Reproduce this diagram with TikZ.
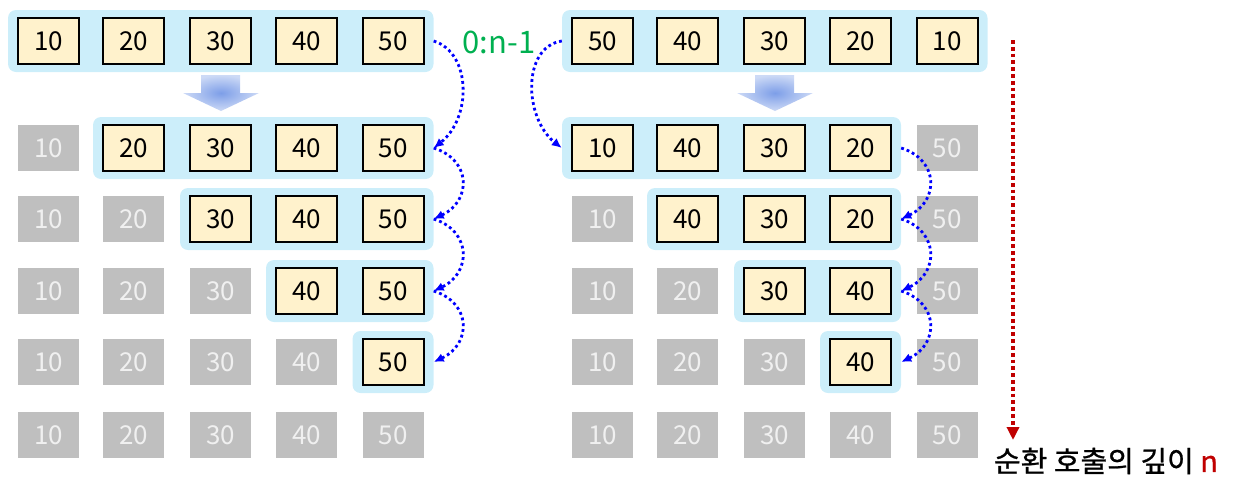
\documentclass[tikz,border=0pt]{standalone}
\usepackage{fontspec}
\setmainfont{Noto Sans CJK KR}
\newfontfamily\kofont[FakeBold=0.8]{Noto Sans CJK KR}
\usetikzlibrary{arrows.meta,fit,backgrounds}
\definecolor{bgcyan}{RGB}{204,238,250}
\definecolor{boxyellow}{RGB}{255,242,204}
\definecolor{boxgray}{RGB}{191,191,191}
\definecolor{graytext}{RGB}{240,240,240}
\definecolor{callblue}{RGB}{0,0,255}
\definecolor{labgreen}{RGB}{0,176,80}
\definecolor{depthred}{RGB}{192,0,0}
\definecolor{arrin}{RGB}{125,158,232}
\definecolor{arrout}{RGB}{205,218,246}
\newcommand{\numfont}{\fontsize{26}{30}\selectfont}
\begin{document}
\begin{tikzpicture}[x=1pt,y=-1pt,
  ybox/.style={draw=black, line width=2pt, fill=boxyellow, inner sep=0pt, font=\numfont, text=black},
  gbox/.style={fill=boxgray, inner sep=0pt, font=\numfont, text=graytext},
  bsize/.style={minimum width=61pt, minimum height=46pt},
  bgbar/.style={fill=bgcyan, rounded corners=8pt, inner xsep=9pt, inner ysep=7pt},
  callarrow/.style={draw=callblue, line width=2.8pt, dash pattern=on 2.8pt off 3pt, -{Latex[length=10pt,width=9pt]}},
  bigarrow/.style={inner color=arrin, outer color=arrout}
]
\useasboundingbox (0,0) rectangle (1235,488);

% left grid
\foreach \r/\y in {1/41,2/148,3/219,4/291,5/362,6/435}{
  \foreach \c/\x/\v in {1/48.5/10,2/133.5/20,3/220.5/30,4/306.5/40,5/393/50}{
    \ifnum\c<\r
      \node[gbox,bsize] (L\r\c) at (\x,\y) {\v};
    \else
      \node[ybox,bsize] (L\r\c) at (\x,\y) {\v};
    \fi
  }
}

% right grid
\foreach \c/\x/\v in {1/602.5/50,2/687.5/40,3/774.5/30,4/860.5/20,5/947/10}{
  \node[ybox,bsize] (R1\c) at (\x,41) {\v};
}
\foreach \r/\y in {2/148,3/219}{
  \foreach \c/\x/\v in {1/602.5/10,2/687.5/40,3/774.5/30,4/860.5/20,5/947/50}{
    \pgfmathtruncatemacro{\isy}{(\c>=\r-1)&&(\c<=4)}
    \ifnum\isy=1
      \node[ybox,bsize] (R\r\c) at (\x,\y) {\v};
    \else
      \node[gbox,bsize] (R\r\c) at (\x,\y) {\v};
    \fi
  }
}
\foreach \r/\y in {4/291,5/362,6/435}{
  \foreach \c/\x/\v in {1/602.5/10,2/687.5/20,3/774.5/30,4/860.5/40,5/947/50}{
    \pgfmathtruncatemacro{\isy}{(\c>=\r-1)&&(\c<=4)&&(\r<6)}
    \ifnum\isy=1
      \node[ybox,bsize] (R\r\c) at (\x,\y) {\v};
    \else
      \node[gbox,bsize] (R\r\c) at (\x,\y) {\v};
    \fi
  }
}

% background bars
\begin{scope}[on background layer]
  \node[bgbar, fit=(L11)(L15)] (Lb1) {};
  \node[bgbar, fit=(L22)(L25)] (Lb2) {};
  \node[bgbar, fit=(L33)(L35)] (Lb3) {};
  \node[bgbar, fit=(L44)(L45)] (Lb4) {};
  \node[bgbar, fit=(L55)(L55)] (Lb5) {};
  \node[bgbar, fit=(R11)(R15)] (Rb1) {};
  \node[bgbar, fit=(R21)(R24)] (Rb2) {};
  \node[bgbar, fit=(R32)(R34)] (Rb3) {};
  \node[bgbar, fit=(R43)(R44)] (Rb4) {};
  \node[bgbar, fit=(R54)(R54)] (Rb5) {};
\end{scope}

% big gradient arrows
\shade[bigarrow] (201,75) -- (240,75) -- (240,93) -- (259,93) -- (221,111) -- (183,93) -- (201,93) -- cycle;
\shade[bigarrow] (755,75) -- (794,75) -- (794,93) -- (813,93) -- (775,111) -- (737,93) -- (755,93) -- cycle;

% recursive call arrows (left)
\draw[callarrow] (Lb1.east) .. controls +(38,12) and +(38,-30) .. (Lb2.east);
\draw[callarrow] (Lb2.east) .. controls +(38,12) and +(38,-18) .. (Lb3.east);
\draw[callarrow] (Lb3.east) .. controls +(38,12) and +(38,-18) .. (Lb4.east);
\draw[callarrow] (Lb4.east) .. controls +(38,12) and +(38,-18) .. (Lb5.east);

% 0:n-1 arrow
\draw[callarrow] (Rb1.west) .. controls +(-40,6) and +(-38,-30) .. (Rb2.west);
\node[text=labgreen, font=\fontsize{31}{34}\selectfont] (lab) at (499,42) {0:n-1};

% recursive call arrows (right)
\draw[callarrow] (Rb2.east) .. controls +(38,12) and +(38,-18) .. (Rb3.east);
\draw[callarrow] (Rb3.east) .. controls +(38,12) and +(38,-18) .. (Rb4.east);
\draw[callarrow] (Rb4.east) .. controls +(38,12) and +(38,-18) .. (Rb5.east);

% depth arrow
\coordinate (dtop) at (1013,40);
\coordinate (dbot) at (1013,440);
\draw[depthred, line width=3.8pt, dash pattern=on 3.8pt off 3pt, -{Triangle[length=13pt,width=12pt]}] (dtop) -- (dbot);
\node[font=\kofont\fontsize{29}{32}\selectfont, inner sep=0pt] (depth) at (1106,461) {순환 호출의 깊이 \textcolor{depthred}{n}};
\end{tikzpicture}
\end{document}
